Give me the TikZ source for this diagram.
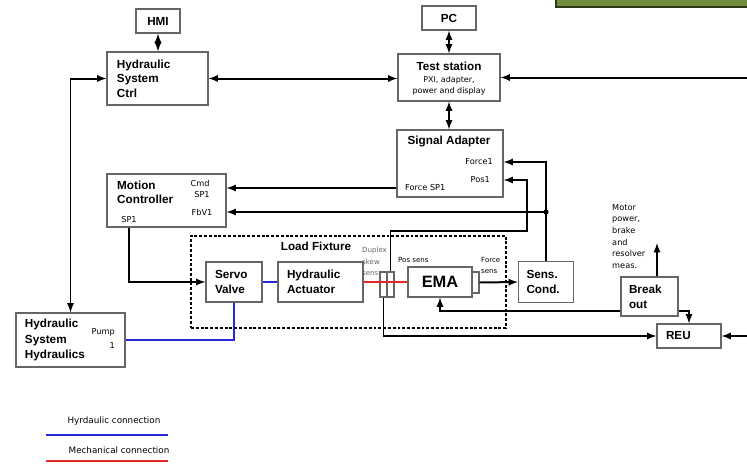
\documentclass[tikz,border=0pt]{standalone}
\usepackage{fontspec}
\setmainfont{Liberation Sans}
\newfontfamily\smallfont{DejaVu Sans}
\usepackage{tikz}
\definecolor{hydblue}{RGB}{40,40,215}
\definecolor{mechred}{RGB}{230,40,40}
\definecolor{bargreen}{RGB}{112,140,62}
\definecolor{bardark}{RGB}{45,55,25}
\tikzset{
  blk/.style={draw=black!60,line width=1pt,inner sep=0pt,font=\bfseries\fontsize{10}{12.5}\selectfont},
  ttl/.style={inner sep=0pt,font=\bfseries\fontsize{10}{12}\selectfont},
  lbl/.style={inner sep=0pt,font=\smallfont\fontsize{7}{8.5}\selectfont},
  note/.style={inner sep=0pt,font=\smallfont\fontsize{6}{9.8}\selectfont},
  fixture/.style={draw,line width=1.5pt,dash pattern=on 2.5pt off 1.6pt,inner sep=0pt},
  sig/.style={line width=1.7pt,-latex},
  sigb/.style={line width=1.7pt,latex-latex},
  hyd/.style={hydblue,line width=1.7pt},
  mech/.style={mechred,line width=1.7pt},
}
\begin{document}
\begin{tikzpicture}[x=0.03cm,y=-0.03cm]
\useasboundingbox (0,0) rectangle (747,463);
\fill[bardark] (555,0) rectangle (747,8);
\fill[bargreen] (557,0) rectangle (747,5.5);

\node[blk,minimum width=1.32cm,minimum height=0.72cm] (hmi) at (158,21) {HMI};
\node[blk,minimum width=3.03cm,minimum height=1.59cm,text width=2.43cm,align=left] (hsc) at (157.5,78.5) {Hydraulic\\System\\Ctrl};
\node[blk,minimum width=1.62cm,minimum height=0.72cm] (pc) at (449,18) {PC};
\node[blk,minimum width=3.06cm,minimum height=1.41cm] (ts) at (449,77.5) {};
\node[ttl] (tstitle) at (449,66) {Test station};
\node[lbl,font=\smallfont\fontsize{6.8}{9.4}\selectfont,align=center] (tssub) at (449,85.5) {PXI, adapter,\\power and display};

\node[blk,minimum width=3.18cm,minimum height=2.01cm] (sa) at (450,163.5) {};
\node[ttl] (satitle) at (449,141) {Signal Adapter};
\node[lbl,anchor=east] (force1) at (493,162) {Force1};
\node[lbl,anchor=east] (pos1) at (490,180) {Pos1};
\node[lbl,anchor=west] (fsp1) at (405,188) {Force SP1};

\node[blk,minimum width=3.57cm,minimum height=1.59cm] (mc) at (166.5,200.5) {};
\node[ttl,anchor=west,align=left] (mctitle) at (117,192) {Motion\\Controller};
\node[lbl] (mcsp1) at (129,220) {SP1};
\node[lbl] (cmd) at (200,183) {Cmd};
\node[lbl] (cmdsp1) at (202,195) {SP1};
\node[lbl] (fbv1) at (202,212) {FbV1};

\node[fixture,minimum width=9.45cm,minimum height=2.76cm] (lf) at (348.5,282) {};
\node[ttl] (lftitle) at (316,246) {Load Fixture};
\node[blk,minimum width=1.68cm,minimum height=1.2cm,text width=1.14cm,align=left] (sv) at (234,282) {Servo\\Valve};
\node[blk,minimum width=2.55cm,minimum height=1.2cm,text width=2.01cm,align=left] (ha) at (320.5,282) {Hydraulic\\Actuator};
\node[note,text=black!60,anchor=north west,align=left] (dupl) at (362,247) {Duplex\\skew\\sens};
\node[blk,fill=white,minimum width=0.21cm,minimum height=0.75cm] (dl) at (383.5,284.5) {};
\node[blk,fill=white,minimum width=0.21cm,minimum height=0.75cm] (dr) at (390.5,284.5) {};
\node[blk,minimum width=1.92cm,minimum height=0.9cm,font=\bfseries\fontsize{14}{16}\selectfont] (ema) at (440,282) {EMA};
\node[blk,minimum width=0.21cm,minimum height=0.63cm] (emb) at (475.5,282.5) {};
\node[note,anchor=west] (possens) at (398,260) {Pos sens};
\node[note,anchor=north west,align=left] (forcesens) at (481,257) {Force\\sens};

\node[blk,minimum width=1.65cm,minimum height=1.23cm,text width=1.17cm,align=left] (sc) at (546,282) {Sens.\\Cond.};
\node[blk,minimum width=1.71cm,minimum height=1.17cm,text width=1.23cm,align=left] (bo) at (649.5,296.5) {Break\\out};
\node[blk,minimum width=1.92cm,minimum height=0.72cm,text width=1.38cm,align=left] (reu) at (689,336) {REU};
\node[lbl,font=\smallfont\fontsize{7}{9.9}\selectfont,anchor=north west,align=left] (mpnote) at (612,204) {Motor\\power,\\brake\\and\\resolver\\meas.};

\node[blk,minimum width=3.27cm,minimum height=1.62cm,text width=2.73cm,align=left,font=\bfseries\fontsize{10}{13}\selectfont] (hsh) at (70.5,340) {Hydraulic\\System\\Hydraulics};
\node[lbl,font=\smallfont\fontsize{7}{12}\selectfont,anchor=north east,align=right] (pump) at (115,328) {Pump\\1};

\coordinate (tsin) at (747,77.5);
\coordinate (reuin) at (747,336);
\coordinate (jn) at (sc.north |- fbv1);
\coordinate (posbend) at (527,231);
\coordinate (mpout) at (657,243);

\draw[sigb] (hmi.south) -- (hmi.south |- hsc.north);
\draw[sigb] (pc.south) -- (ts.north);
\draw[sigb] (ts.south) -- (ts.south |- sa.north);
\draw[sigb] (hsc.east) -- (hsc.east -| ts.west);
\draw[sig] (tsin) -- (ts.east);
\draw[sigb] (hsh.north) |- (hsc.west);
\draw[sig] (mcsp1.south |- mc.south) |- (sv.west);
\draw[sig] (fsp1.west -| sa.west) -- (fsp1.west -| mc.east);
\draw[sig] (jn) -- (jn -| mc.east);
\fill (jn) circle (2.2pt);
\draw[sig] (sc.north) |- (force1 -| sa.east);
\draw[sig] (dr.north) |- (posbend) |- (pos1 -| sa.east);
\draw[sig] (dl.south) |- (reu.west);
\draw[sig] (emb.east) -- (sc.west);
\draw[sig] (bo.south west) ++(0,-6) -| (ema.south);
\draw[sig] (bo.south east) ++(0,-6) -| (reu.north);
\draw[sig] (bo.north -| mpout) -- (mpout);
\draw[sig] (reuin) -- (reu.east);
\draw[hyd] (sv.east) -- (ha.west);
\draw[hyd] (sv.south) |- (hsh.east);
\draw[mech] (ha.east) -- (ema.west);

\node[lbl,font=\smallfont\fontsize{7.5}{9}\selectfont] (hydleg) at (114,421) {Hyrdaulic connection};
\draw[hyd] (46,435) -- (168,435);
\node[lbl,font=\smallfont\fontsize{7.5}{9}\selectfont] (mechleg) at (119,450) {Mechanical connection};
\draw[mech] (46,460.5) -- (168,460.5);
\end{tikzpicture}
\end{document}
